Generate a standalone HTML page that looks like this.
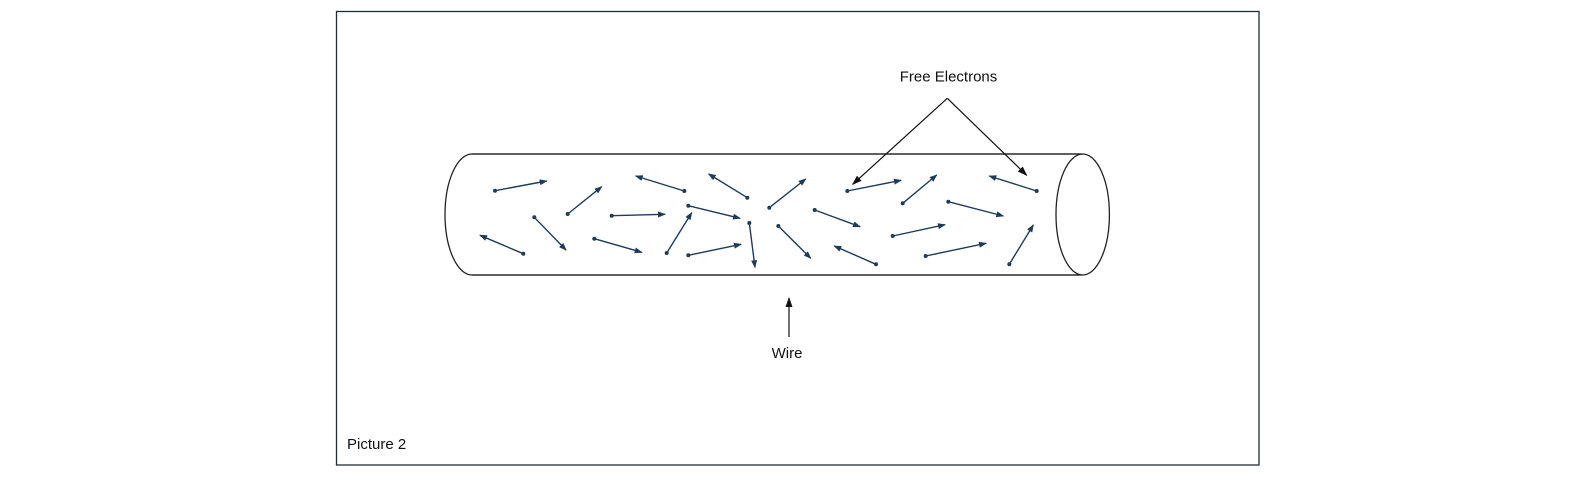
<!DOCTYPE html>
<html><head><meta charset="utf-8"><style>html,body{margin:0;padding:0;background:#fff}svg{display:block}</style></head>
<body>
<svg width="1596" height="477" viewBox="0 0 1596 477" xmlns="http://www.w3.org/2000/svg">
<defs>
<marker id="e" markerWidth="8" markerHeight="6" refX="7" refY="3" orient="auto" markerUnits="userSpaceOnUse"><path d="M0,0 L8,3 L0,6 Z" fill="#1e3c5a"/></marker>
<marker id="k" markerWidth="10" markerHeight="7" refX="9" refY="3.5" orient="auto" markerUnits="userSpaceOnUse"><path d="M0,0 L10,3.5 L0,7 Z" fill="#111"/></marker>
</defs>
<rect x="336.5" y="11.5" width="922.5" height="453.5" fill="#fff" stroke="#1e2e38" stroke-width="1.3"/>
<path d="M472,154 L1082,154 M472,275 L1082,275" stroke="#000" stroke-width="1.3" fill="none"/>
<path d="M472,154 A27,60.5 0 0 0 472,275" stroke="#222" stroke-width="1.3" fill="none"/>
<ellipse cx="1082.7" cy="214.5" rx="26.7" ry="60.5" fill="none" stroke="#222" stroke-width="1.3"/>
<g stroke="#1e3c5a" stroke-width="1.4" fill="#1e3c5a" marker-end="url(#e)">
<line x1="495" y1="190.7" x2="546.7" y2="181"/>
<line x1="567.7" y1="214" x2="601.7" y2="186.7"/>
<line x1="684.3" y1="191" x2="635.7" y2="176"/>
<line x1="747.3" y1="197.7" x2="708.7" y2="174"/>
<line x1="611.7" y1="215.7" x2="665" y2="214.3"/>
<line x1="688.3" y1="205.7" x2="740" y2="218.3"/>
<line x1="534.3" y1="217.3" x2="566" y2="250"/>
<line x1="523.3" y1="253.7" x2="480" y2="235.3"/>
<line x1="594.3" y1="238.7" x2="641.7" y2="252.3"/>
<line x1="666.7" y1="253" x2="691.7" y2="212.7"/>
<line x1="688.3" y1="255.3" x2="741" y2="244.3"/>
<line x1="749.3" y1="223" x2="755" y2="267.3"/>
<line x1="769.3" y1="207.7" x2="805.7" y2="179"/>
<line x1="778.3" y1="226" x2="810.7" y2="258.3"/>
<line x1="814.7" y1="210" x2="860" y2="226.7"/>
<line x1="876" y1="264.3" x2="834.3" y2="246"/>
<line x1="847.3" y1="191" x2="901" y2="180.3"/>
<line x1="902.7" y1="203.3" x2="936.7" y2="175"/>
<line x1="892.7" y1="236" x2="945" y2="224.7"/>
<line x1="948.3" y1="201.7" x2="1003.3" y2="216"/>
<line x1="925.7" y1="256" x2="986" y2="243.3"/>
<line x1="1036.7" y1="191" x2="989.3" y2="176"/>
<line x1="1009.3" y1="264.3" x2="1033.3" y2="225"/>
</g>
<g fill="#1e3c5a">
<circle cx="495" cy="190.7" r="2"/><circle cx="567.7" cy="214" r="2"/><circle cx="684.3" cy="191" r="2"/><circle cx="747.3" cy="197.7" r="2"/><circle cx="611.7" cy="215.7" r="2"/><circle cx="688.3" cy="205.7" r="2"/><circle cx="534.3" cy="217.3" r="2"/><circle cx="523.3" cy="253.7" r="2"/><circle cx="594.3" cy="238.7" r="2"/><circle cx="666.7" cy="253" r="2"/><circle cx="688.3" cy="255.3" r="2"/><circle cx="749.3" cy="223" r="2"/><circle cx="769.3" cy="207.7" r="2"/><circle cx="778.3" cy="226" r="2"/><circle cx="814.7" cy="210" r="2"/><circle cx="876" cy="264.3" r="2"/><circle cx="847.3" cy="191" r="2"/><circle cx="902.7" cy="203.3" r="2"/><circle cx="892.7" cy="236" r="2"/><circle cx="948.3" cy="201.7" r="2"/><circle cx="925.7" cy="256" r="2"/><circle cx="1036.7" cy="191" r="2"/><circle cx="1009.3" cy="264.3" r="2"/>
</g>
<g stroke="#111" stroke-width="1.2" fill="none" marker-end="url(#k)">
<line x1="947.3" y1="98.3" x2="852.7" y2="184.3"/>
<line x1="947.3" y1="98.3" x2="1026.7" y2="175.3"/>
<line x1="789" y1="337" x2="789" y2="298"/>
</g>
<g font-family="'Liberation Sans', Arial, sans-serif" font-size="15" fill="#111">
<text x="948.5" y="81.7" text-anchor="middle">Free Electrons</text>
<text x="787" y="358" text-anchor="middle">Wire</text>
<text x="347" y="449">Picture 2</text>
</g>
</svg>
</body></html>
